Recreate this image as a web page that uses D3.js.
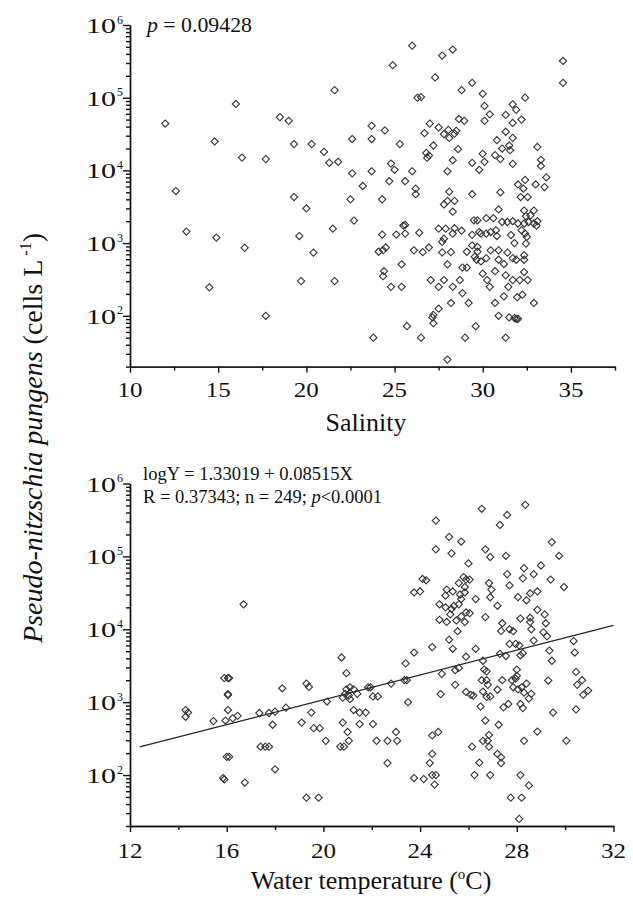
<!DOCTYPE html>
<html><head><meta charset="utf-8">
<script src="https://cdn.jsdelivr.net/npm/d3@7"></script>
<style>
html,body{margin:0;padding:0;background:#fff;}
svg{display:block;}
</style></head><body>
<svg id="chart" width="633" height="900"></svg>
<script>
// [salinity, cells L-1]
const salinityData = [
[12.0,44000],[16.0,82000],[14.8,25000],[16.35,15000],[17.7,14300],[18.5,54000],[19.0,48000],[19.3,23000],[20.3,23000],[12.6,5200],[19.3,4300],[20.0,3000],[13.2,1440],[14.9,1190],[16.5,860],[19.6,1250],[20.4,740],[14.5,246],[19.7,300],[17.7,100],
[26.0,520000],[27.7,380000],[28.3,460000],[24.9,280000],[34.55,320000],[34.55,160000],[27.3,190000],[28.8,127000],[29.4,160000],[21.6,127000],[30.0,113000],[26.3,100000],[26.5,102000],[32.4,100000],[30.1,77000],[31.7,81000],[31.9,68000],[30.4,59000],[31.3,58000],[30.1,48000],[32.2,50000],[28.65,51000],[28.95,48000],[31.7,45000],[27.0,44000],[27.5,39000],[28.05,36000],[28.5,35000],[31.3,34000],[26.7,32500],[27.8,31500],[28.4,32000],[28.1,28000],[31.7,28000],[23.7,41000],[24.45,35500],[22.6,27000],[23.7,27000],[25.3,23000],[30.8,26000],[33.1,21000],[27.2,22000],[28.6,19600],[31.1,20000],[31.5,22000],[31.55,19000],[21.0,18000],[26.8,17400],[26.95,16000],[30.0,16900],[30.7,16200],[31.0,14300],[33.3,14000],[26.85,14900],[28.3,13800],[30.1,13100],[21.3,12700],[21.8,13100],[24.8,12400],[29.4,12700],[31.7,12300],[33.3,11500],[25.0,10200],[22.6,9100],[23.7,9700],[26.0,9700],[28.0,9700],[29.8,10200],[33.6,8000],[32.4,7400],[32.0,6400],[32.3,5600],[33.0,6400],[33.5,5900],[23.2,6100],[24.7,7100],[25.6,7100],[26.2,5600],[26.2,4700],[28.1,5100],[29.4,4700],[31.0,5000],
[24.3,4000],[32.15,4300],[32.55,4300],[22.5,4000],[27.8,3400],[28.0,3800],[28.4,3800],[28.3,2700],[32.35,2800],[32.9,2800],[32.7,2400],[32.45,2350],[30.9,2900],[30.2,2200],[30.6,2200],[29.5,2060],[29.7,2060],[31.1,1950],[31.4,1950],[31.7,2000],[32.0,1860],[32.35,1860],[32.6,1950],[32.9,1860],[33.1,2000],[33.05,1740],[25.5,1740],[25.6,1780],[24.3,1310],[25.1,1310],[25.6,1350],[26.4,1390],[27.5,1580],[27.9,1580],[28.4,1600],[28.8,1480],[28.3,1350],[27.8,1150],[27.7,1040],[29.4,1300],[29.8,1420],[29.9,1350],[30.2,1350],[30.45,1420],[30.75,1500],[30.8,1250],[31.6,1290],[32.2,1500],[32.4,1350],[32.5,1220],[31.8,1000],[32.45,985],[29.4,930],[29.7,885],[29.7,760],[30.45,795],[30.9,795],[31.4,740],[31.7,620],[31.9,590],[32.35,590],[32.35,680],[24.1,760],[24.5,870],[24.35,800],[26.1,795],[26.6,750],[26.95,870],[27.7,745],[28.2,750],[29.1,760],[29.55,650],[29.65,590],[29.9,560],[30.2,620],[30.9,590],[31.2,515],[25.4,510],[28.0,510],[28.85,460],[29.1,460],[30.0,380],[30.7,410],[31.3,360],[32.35,400],[24.4,410],[24.35,350],[27.05,310],[27.8,310],[28.7,310],[30.25,310],[31.45,250],[31.7,310],[32.1,310],[32.55,310],[24.8,250],[25.4,250],[27.5,250],[28.3,250],[30.4,250],[31.95,180],[32.25,195],[31.2,185],[28.85,205],[28.2,150],[29.2,150],[30.7,150],[32.9,150],[27.5,125],[27.2,103],[27.15,95],[27.2,79],[30.9,100],[31.5,95],[31.8,93],[31.9,91],[32.0,91],[25.7,72],[29.6,72],[23.8,50],[26.5,50],[29.0,50],[31.3,50],[28.0,25],[21.5,1580],[22.7,2040],[21.6,300]
];
// [water temperature, cells L-1]
const temperatureData = [
[16.7,22000],
[26.55,450000],[28.35,510000],[27.6,370000],[27.3,270000],[24.65,310000],[25.2,185000],[25.7,160000],[29.45,157000],[24.65,125000],[25.3,110000],[26.7,125000],[26.9,98000],[27.55,102000],[29.75,102000],[26.0,80000],[28.3,69000],[29.0,75000],[27.6,57000],[28.25,50000],[28.7,57000],[29.4,48000],[29.95,38000],[27.7,40000],[26.85,43000],[26.95,35000],[24.1,49000],[24.25,47000],[23.75,32000],[24.0,33000],[25.1,35000],[25.05,29000],[25.35,33000],[25.6,43000],[25.8,52000],[25.9,48000],[25.85,38000],[25.65,30000],[26.05,48000],[25.85,32000],[25.7,26000],[26.3,26000],[26.9,27500],[28.05,27600],[28.4,25000],[28.55,31000],[28.85,33000],[24.8,22000],[25.05,20000],[25.4,21000],[25.3,19000],[25.6,22000],[25.9,17000],[26.05,16600],[25.25,16000],[25.7,15000],[27.2,21000],[28.85,18500],[29.15,16000],[24.8,13500],[25.1,12600],[25.5,13200],[25.85,12600],[26.7,14700],[28.15,14000],[28.55,14400],[27.4,12100],[27.35,9500],[27.7,10000],[27.85,9400],[28.55,12600],[28.6,10000],[29.2,12100],[29.1,9100],[29.25,8000],[25.55,9400],[25.2,7200],[28.7,7000],[30.35,6900],[23.75,4800],[24.5,5700],[25.35,5400],[26.3,5400],[27.7,6300],[27.95,6300],[28.1,6000],[28.25,4700],[28.15,4400],[29.35,5100],[30.4,4800],[20.75,4100],[23.4,3400],[27.3,4600],[27.55,4300],[25.9,4200],[29.45,3700],[26.6,3700],[26.65,2800],[26.75,2650],[30.45,2600],[30.7,2000],[30.5,1730],[29.3,1980],[30.95,1440],[30.75,1260],[25.45,2750],[25.6,2950],[24.9,2440],[23.35,2000],[25.45,1730],[24.85,1290],[23.5,1000],[25.9,1380],[26.1,1260],[26.2,1230],[26.55,2000],[26.75,2000],[26.8,1730],[26.6,1400],[26.75,1180],[26.9,1200],[27.2,1480],[27.4,2000],[27.8,2000],[27.95,2100],[28.0,2300],[28.0,2800],[27.85,1600],[28.05,1500],[28.2,1600],[28.4,1800],[28.3,1350],[28.5,1120],[28.6,1300],[26.5,870],[27.45,850],[27.65,945],[28.15,945],[28.25,830],[29.5,720],[30.45,795],[26.7,560],[27.25,490],[24.75,390],[24.5,350],[28.85,395],[28.3,295],[30.05,295],[26.85,355],[26.6,295],[26.8,295],[26.85,245],[26.15,245],[24.5,195],[24.4,146],[26.45,148],[27.2,195],[27.35,175],[27.35,146],[23.75,91],[24.15,88],[24.5,100],[24.65,100],[24.6,74],[26.25,100],[26.9,100],[28.15,100],[28.5,72],[27.75,49],[28.2,49],[28.1,25],
[19.3,1800],[19.4,1620],[20.95,2500],[20.95,1500],[21.1,1600],[21.25,1500],[20.9,1300],[21.05,1230],[21.1,1100],[21.4,1300],[21.85,1600],[21.95,1600],[22.05,1200],[22.25,1200],[22.8,1800],[23.45,2000],[20.15,1020],[20.8,1150],[19.5,720],[19.1,525],[21.25,780],[21.5,720],[21.75,720],[20.8,525],[21.5,500],[22.05,500],[19.6,440],[19.85,440],[20.1,295],[20.7,245],[20.85,245],[21.05,295],[21.0,390],[22.2,295],[22.65,295],[23.05,295],[23.0,390],[22.65,146],[19.3,49],[19.8,49],
[14.3,780],[14.4,720],[14.3,630],[15.45,550],[15.9,2140],[16.05,2140],[16.1,2140],[16.05,1290],[16.05,1250],[16.05,780],[15.95,560],[16.25,600],[16.45,650],[16.0,178],[16.1,178],[15.85,91],[15.9,87],[16.75,79],[17.35,710],[17.75,710],[18.0,740],[18.3,1550],[18.45,840],[17.9,490],[17.4,245],[17.6,245],[17.75,245],[18.0,120]
];
const salinityTicks = [10,15,20,25,30,35];
const salinityMinorTicks = [12.5,17.5,22.5,27.5,32.5,37.5];
const temperatureTicks = [12,16,20,24,28,32];
const temperatureMinorTicks = [14,18,22,26,30];
const decadeExponents = [2,3,4,5,6];
const regIntercept = 1.33019, regSlope = 0.08515, regFrom = 12.4, regTo = 32;

const svg = d3.select("#chart");
const FONT = "'Liberation Serif', 'Times New Roman', 'DejaVu Serif', serif";
function txt(sel) { return sel.append("text").attr("font-family", FONT).attr("fill", "#111"); }

const minorLog = [];
for (let e = 1; e <= 5; e++) for (let m = 2; m <= 9; m++) { const v = m * Math.pow(10, e); if (v >= 20) minorLog.push(v); }

function panel(cfg) {
  const x = d3.scaleLinear().domain(cfg.xDomain).range([cfg.left, cfg.right]);
  const y = d3.scaleLog().domain([20, 1e6]).range([cfg.bottom, cfg.top]);
  const g = svg.append("g");

  const yMinor = g.append("g").attr("transform", `translate(${cfg.left},0)`)
    .call(d3.axisLeft(y).tickValues(minorLog).tickSize(4).tickSizeOuter(0).tickFormat(""));
  const yMajor = g.append("g").attr("transform", `translate(${cfg.left},0)`)
    .call(d3.axisLeft(y).tickValues(decadeExponents.map(e => Math.pow(10, e))).tickSize(7).tickSizeOuter(0).tickFormat(""));
  const xMinor = g.append("g").attr("transform", `translate(0,${cfg.bottom})`)
    .call(d3.axisBottom(x).tickValues(cfg.minorTicks).tickSize(4).tickSizeOuter(0).tickFormat(""));
  const xMajor = g.append("g").attr("transform", `translate(0,${cfg.bottom})`)
    .call(d3.axisBottom(x).tickValues(cfg.ticks).tickSize(6).tickSizeOuter(0).tickFormat(""));
  [yMinor, yMajor, xMinor, xMajor].forEach(a => {
    a.selectAll("path,line").attr("stroke", "#111").attr("stroke-width", 1.4);
  });

  decadeExponents.forEach(e => {
    const yy = y(Math.pow(10, e));
    txt(g).attr("x", cfg.left - 14).attr("y", yy + 8).attr("text-anchor", "end")
      .attr("font-size", 21).attr("textLength", 30).attr("lengthAdjust", "spacingAndGlyphs").text("10");
    txt(g).attr("x", cfg.left - 13).attr("y", yy - 1.5).attr("font-size", 12).text(e);
  });
  cfg.ticks.forEach(t => {
    txt(g).attr("x", x(t)).attr("y", cfg.bottom + cfg.labelDy).attr("text-anchor", "middle")
      .attr("font-size", 21).attr("textLength", 25).attr("lengthAdjust", "spacingAndGlyphs").text(t);
  });

  if (cfg.regression) {
    const line = d3.line().x(d => x(d)).y(d => y(Math.pow(10, regIntercept + regSlope * d)));
    g.append("path").attr("d", line([regFrom, regTo])).attr("fill", "none").attr("stroke", "#222").attr("stroke-width", 1.3);
  }

  const sym = d3.symbol(d3.symbolSquare, 26);
  g.append("g").selectAll("path").data(cfg.data).join("path")
    .attr("d", sym)
    .attr("transform", d => `translate(${x(d[0])},${y(d[1])}) rotate(45)`)
    .attr("fill", "none").attr("stroke", "#333").attr("stroke-width", 1.1);
  return {x, y, g};
}

panel({xDomain:[10,37.5], left:130, right:615, top:25, bottom:366.6,
  ticks:salinityTicks, minorTicks:salinityMinorTicks, data:salinityData, labelDy:30});
panel({xDomain:[12,32], left:130, right:613.5, top:483.5, bottom:826,
  ticks:temperatureTicks, minorTicks:temperatureMinorTicks, data:temperatureData, labelDy:32, regression:true});

const pt = txt(svg).attr("x", 147).attr("y", 32).attr("font-size", 22)
  .attr("textLength", 105).attr("lengthAdjust", "spacingAndGlyphs");
pt.append("tspan").attr("font-style", "italic").text("p");
pt.append("tspan").text(" = 0.09428");

txt(svg).attr("x", 143).attr("y", 480).attr("font-size", 18)
  .attr("textLength", 210).attr("lengthAdjust", "spacingAndGlyphs").text("logY = 1.33019 + 0.08515X");
const r2 = txt(svg).attr("x", 143).attr("y", 503).attr("font-size", 18)
  .attr("textLength", 239).attr("lengthAdjust", "spacingAndGlyphs");
r2.append("tspan").text("R = 0.37343; n = 249; ");
r2.append("tspan").attr("font-style", "italic").text("p");
r2.append("tspan").text("<0.0001");

txt(svg).attr("x", 366).attr("y", 431).attr("text-anchor", "middle").attr("font-size", 26)
  .text("Salinity");
const wt = txt(svg).attr("x", 371).attr("y", 889).attr("text-anchor", "middle").attr("font-size", 26);
wt.append("tspan").text("Water temperature (");
wt.append("tspan").attr("font-size", 15).attr("dy", -10).text("o");
wt.append("tspan").attr("dy", 10).text("C)");

const yl = txt(svg).attr("transform", "translate(42,438) rotate(-90)")
  .attr("text-anchor", "middle").attr("font-size", 28);
yl.append("tspan").attr("font-style", "italic").text("Pseudo-nitzschia pungens");
yl.append("tspan").text(" (cells L");
yl.append("tspan").attr("font-size", 16).attr("dy", -11).text(" -1");
yl.append("tspan").attr("dy", 11).text(")");
</script>
</body></html>
